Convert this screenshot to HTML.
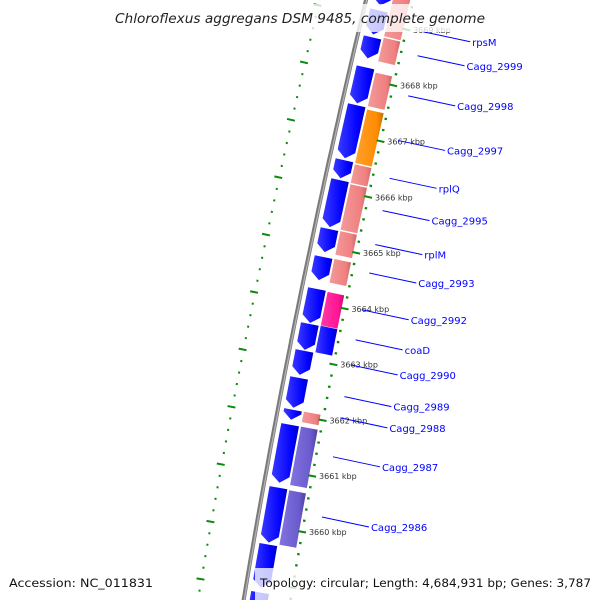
<!DOCTYPE html>
<html><head><meta charset="utf-8"><style>
html,body{margin:0;padding:0;background:#fff;}
svg{display:block;}
</style></head><body>
<svg id="map" xmlns="http://www.w3.org/2000/svg" width="600" height="600" viewBox="0 0 600 600">
<defs>
<linearGradient id="gBlue" x1="0" x2="1" y1="0" y2="0"><stop offset="0" stop-color="#3a3aff"/><stop offset="0.75" stop-color="#0000ff"/><stop offset="1" stop-color="#0000b8"/></linearGradient>
<linearGradient id="gPink" x1="0" x2="1" y1="0" y2="0"><stop offset="0" stop-color="#f29a9a"/><stop offset="0.75" stop-color="#f08080"/><stop offset="1" stop-color="#c86a6a"/></linearGradient>
<linearGradient id="gOrange" x1="0" x2="1" y1="0" y2="0"><stop offset="0" stop-color="#ffa030"/><stop offset="0.75" stop-color="#ff8c00"/><stop offset="1" stop-color="#c86e00"/></linearGradient>
<linearGradient id="gMag" x1="0" x2="1" y1="0" y2="0"><stop offset="0" stop-color="#ff3aa8"/><stop offset="0.75" stop-color="#ff1493"/><stop offset="1" stop-color="#c0106e"/></linearGradient>
<linearGradient id="gPurple" x1="0" x2="1" y1="0" y2="0"><stop offset="0" stop-color="#8274e0"/><stop offset="0.75" stop-color="#6a5acd"/><stop offset="1" stop-color="#4e42a0"/></linearGradient>
</defs>
<g id="leftRing"></g>
<g id="backbone"></g>
<g id="genes"></g>
<g id="rightRing"></g>
<g id="labels" font-family="DejaVu Sans, Liberation Sans, sans-serif" font-size="10" fill="#0000ff"></g>
<rect x="112" y="4" width="376" height="28" fill="#fff" fill-opacity="0.78"/>
<text x="300" y="23" text-anchor="middle" font-family="DejaVu Sans, Liberation Sans, sans-serif" font-style="italic" font-size="13" fill="#222" textLength="370" lengthAdjust="spacingAndGlyphs">Chloroflexus aggregans DSM 9485, complete genome</text>
<rect x="4" y="568" width="152" height="32" fill="#fff" fill-opacity="0.78"/>
<rect x="255" y="568" width="341" height="32" fill="#fff" fill-opacity="0.78"/>
<text x="9" y="587" font-family="DejaVu Sans, Liberation Sans, sans-serif" font-size="11.5" fill="#111" textLength="144" lengthAdjust="spacingAndGlyphs">Accession: NC_011831</text>
<text x="260" y="587" font-family="DejaVu Sans, Liberation Sans, sans-serif" font-size="11.5" fill="#111" textLength="331" lengthAdjust="spacingAndGlyphs">Topology: circular; Length: 4,684,931 bp; Genes: 3,787</text>
</svg>
<script>
// ---- data (kbp) ----
const innerStarts = [3669.747,3669.212,3668.731,3668.196,3667.519,3666.538,3666.182,3665.308,3664.809,3664.239,3663.615,3663.134,3662.652,3662.082,3661.815,3660.692,3659.676,3658.820];
const innerEnds   = [3669.301,3668.784,3668.357,3667.554,3666.574,3666.217,3665.344,3664.898,3664.399,3663.633,3663.152,3662.706,3662.118,3661.904,3660.781,3659.711,3658.909,3658.339];
const outerStarts = [3669.818,3668.784,3668.160,3667.501,3666.520,3666.164,3665.326,3664.827,3664.239,3663.633,3662.100,3661.832,3660.692];
const outerEnds   = [3668.784,3668.339,3667.537,3666.520,3666.164,3665.326,3664.881,3664.381,3663.615,3663.134,3661.886,3660.763,3659.693];
const outerColors = ["pink","pink","pink","orange","pink","pink","pink","pink","magenta","blue","pink","purple","purple"];
const tickKbp = [3669,3668,3667,3666,3665,3664,3663,3662,3661,3660];
const tickLabels = ["3669 kbp","3668 kbp","3667 kbp","3666 kbp","3665 kbp","3664 kbp","3663 kbp","3662 kbp","3661 kbp","3660 kbp"];
const geneNames = ["rpsM","Cagg_2999","Cagg_2998","Cagg_2997","rplQ","Cagg_2995","rplM","Cagg_2993","Cagg_2992","coaD","Cagg_2990","Cagg_2989","Cagg_2988","Cagg_2987","Cagg_2986"];
const geneLabelKbp = [3669.03,3668.60,3667.88,3667.08,3666.40,3665.82,3665.21,3664.70,3664.04,3663.50,3663.05,3662.48,3662.10,3661.40,3660.32];

// ---- geometry / scales ----
const SVGNS = "http://www.w3.org/2000/svg";
const bb = y => 366 - 0.24*y + 0.00006*y*y;
const dbb = y => -0.24 + 0.00012*y;
const yScale = k => 75 + (3668 - k) * 56.1;
const yLeft = k => 5.7 + 10 + (3669 - k) * 57.1;
function pt(p, off){ const d = dbb(p); const n = Math.hypot(1, d); return [bb(p) + off/n, p - off*d/n]; }
function mk(tag, attrs, parent){ const e = document.createElementNS(SVGNS, tag); for (const a in attrs) e.setAttribute(a, attrs[a]); parent.appendChild(e); return e; }
const fills = {pink:"url(#gPink)", orange:"url(#gOrange)", magenta:"url(#gMag)", blue:"url(#gBlue)", purple:"url(#gPurple)"};

// backbone
(function(){
  const g = document.getElementById('backbone');
  let d = ""; for (let p = -20; p <= 620; p += 10){ const q = pt(p, 0); d += (p === -20 ? "M" : "L") + q[0].toFixed(1) + " " + q[1].toFixed(1); }
  const a = mk('path', {d: d, fill: "none", stroke: "#7a7a7a", "stroke-width": 4}, g);
  
  
  const b = mk('path', {d: d, fill: "none", stroke: "#b4b4b4", "stroke-width": 1.2, transform: "translate(0.6,0)"}, g);
  
  
})();

function lanePoly(p1, p2, o1, o2, arrow){
  const pts = [];
  const steps = 4;
  const bodyEnd = arrow ? p2 - 7 : p2;
  for (let i = 0; i <= steps; i++) pts.push(pt(p1 + (bodyEnd - p1) * i/steps, o1));
  if (arrow) pts.push(pt(p2, (o1 + o2)/2));
  for (let i = steps; i >= 0; i--) pts.push(pt(p1 + (bodyEnd - p1) * i/steps, o2));
  return pts.map(q => q[0].toFixed(1) + "," + q[1].toFixed(1)).join(" ");
}

// genes
(function(){
  const g = document.getElementById('genes');
  for (let i = 0; i < innerStarts.length; i++){
    const p1 = yScale(innerStarts[i]), p2 = yScale(innerEnds[i]);
    const e = mk('polygon', {points: lanePoly(p1, p2, 6, 24, true), fill: fills.blue}, g);
    
    
  }
  for (let i = 0; i < outerStarts.length; i++){
    const p1 = yScale(outerStarts[i]) + 0.7, p2 = yScale(outerEnds[i]) - 0.7;
    const e = mk('polygon', {points: lanePoly(p1, p2, 26, 43, false), fill: fills[outerColors[i]]}, g);
    
    
  }
})();

// right tick ring
(function(){
  const g = document.getElementById('rightRing');
  for (let k = 3670.0; k >= 3658.2; k -= 0.2){
    const kk = Math.round(k*10)/10;
    const isMajor = Math.abs(kk - Math.round(kk)) < 0.01;
    const p = yScale(kk);
    if (p < -10 || p > 610) continue;
    const a = pt(p, isMajor ? 42 : 45), b = pt(p, isMajor ? 50 : 47.5);
    const e = mk('line', {x1: a[0], y1: a[1], x2: b[0], y2: b[1], stroke: "#0a8a0a", "stroke-width": isMajor ? 2 : 2.2}, g);
    
    
  }
  for (let i = 0; i < tickKbp.length; i++){
    const q = pt(yScale(tickKbp[i]), 52);
    const t = mk('text', {x: q[0] + 1, y: q[1] + 2, "font-family": "DejaVu Sans, Liberation Sans, sans-serif", "font-size": "8", fill: "#333"}, g);
    
    
    t.textContent = tickLabels[i];
  }
})();

// left tick ring
(function(){
  const g = document.getElementById('leftRing');
  for (let k = 3669.4; k >= 3658.6; k -= 0.2){
    const kk = Math.round(k*10)/10;
    const isMajor = Math.abs(kk - Math.round(kk)) < 0.01;
    const p = yLeft(kk);
    if (p < -10 || p > 610) continue;
    const a = pt(p, isMajor ? -50 : -46), b = pt(p, isMajor ? -42 : -44);
    const e = mk('line', {x1: a[0], y1: a[1], x2: b[0], y2: b[1], stroke: "#0a8a0a", "stroke-width": 2}, g);
    
    
  }
})();

// gene labels
(function(){
  const g = document.getElementById('labels');
  for (let i = 0; i < geneNames.length; i++){
    const p = yScale(geneLabelKbp[i]);
    const a = pt(p, 63);
    const b = [a[0] + 47, a[1] + 10];
    const l = mk('line', {x1: a[0], y1: a[1], x2: b[0], y2: b[1], stroke: "#0000ff", "stroke-width": 1}, g);
    
    
    const t = mk('text', {x: b[0] + 2, y: b[1] + 4}, g);
    
    
    t.textContent = geneNames[i];
  }
})();
</script>
</body></html>
